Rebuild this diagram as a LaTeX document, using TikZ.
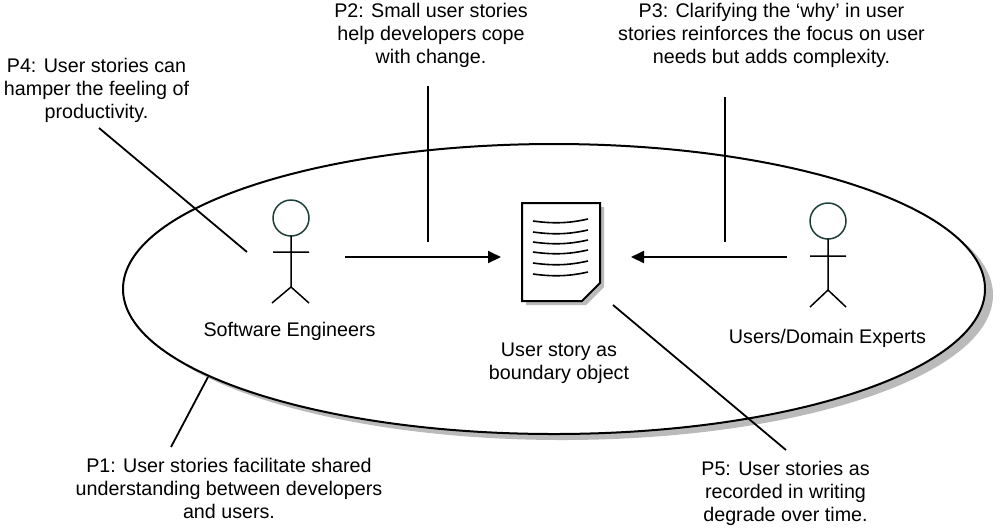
\documentclass[tikz,border=0pt]{standalone}
\usepackage{fontspec}
\setmainfont{Liberation Sans}
\usetikzlibrary{arrows.meta,positioning}

\begin{document}
\begin{tikzpicture}[x=0.5pt,y=-0.5pt,
    note/.style={align=center,anchor=base,inner sep=0pt,font=\fontsize{9.85}{11.4}\selectfont},
    link/.style={line width=0.9pt},
    flow/.style={line width=1pt,-{Triangle[length=6.5pt,width=6pt]}},
    stick/.style={line width=0.75pt},
    headring/.style={line width=0.75pt,draw={rgb,255:red,30;green,62;blue,58}}]
  \useasboundingbox (0,0) rectangle (1000,527);
  % boundary ellipse
  \fill[black!27] (562,295) ellipse[x radius=431,y radius=145];
  \draw[line width=1pt,fill=white] (554,289) ellipse[x radius=431,y radius=145];
  % user story document
  \fill[black!27] (526,207) -- (604,207) -- (604,287) -- (586,305) -- (526,305) -- cycle;
  \draw[line width=1pt,fill=white] (522,203) -- (600,203) -- (600,283) -- (582,301) -- (522,301) -- cycle;
  \foreach \y in {221,232,242,252,263,274}
    \draw[line width=0.8pt] (533,\y) .. controls (555,\y+3) and (570,\y+2) .. (588,\y-2);
  % actors
  \begin{scope}[shift={(291,218)}]
    \draw[headring] (0,0) circle[radius=18];
    \draw[stick] (0,18) -- (0,69) (-18,34) -- (18,34) (-19,85) -- (0,69) -- (18,85);
  \end{scope}
  \begin{scope}[shift={(828,221)}]
    \draw[headring] (0,0) circle[radius=18];
    \draw[stick] (0,18) -- (0,69) (-18,35) -- (18,35) (-18,86) -- (0,69) -- (18,86);
  \end{scope}
  % labels (anchored at the last baseline)
  \node[note] (seng) at (289.5,336) {Software Engineers};
  \node[note] (users) at (827.5,343) {Users/Domain Experts};
  \node[note] (story) at (559,379) {User story as\\boundary object};
  \node[note] (p1) at (229,518) {P1: User stories facilitate shared\\understanding between developers\\and users.};
  \node[note] (p2) at (431,63) {P2: Small user stories\\help developers cope\\with change.};
  \node[note] (p3) at (771.5,63) {P3: Clarifying the ‘why’ in user\\stories reinforces the focus on user\\needs but adds complexity.};
  \node[note] (p4) at (96.5,118) {P4: User stories can\\hamper the feeling of\\productivity.};
  \node[note] (p5) at (785.5,521) {P5: User stories as\\recorded in writing\\degrade over time.};
  % connector ends
  \coordinate (seng-out) at (345,257);
  \coordinate (story-w) at (501,257);
  \coordinate (users-out) at (787,257);
  \coordinate (story-e) at (631,257);
  \coordinate (p1-a) at (171,447);
  \coordinate (p1-b) at (208,377);
  \coordinate (p2-a) at (428,86);
  \coordinate (p2-b) at (428,242);
  \coordinate (p3-a) at (725,97);
  \coordinate (p3-b) at (725,242);
  \coordinate (p4-a) at (99,128);
  \coordinate (p4-b) at (247,252);
  \coordinate (p5-a) at (786,450);
  \coordinate (p5-b) at (613,305);
  \draw[flow] (seng-out) -- (story-w);
  \draw[flow] (users-out) -- (story-e);
  \draw[link] (p1-a) -- (p1-b);
  \draw[link] (p2-a) -- (p2-b);
  \draw[link] (p3-a) -- (p3-b);
  \draw[link] (p4-a) -- (p4-b);
  \draw[link] (p5-a) -- (p5-b);
\end{tikzpicture}
\end{document}
